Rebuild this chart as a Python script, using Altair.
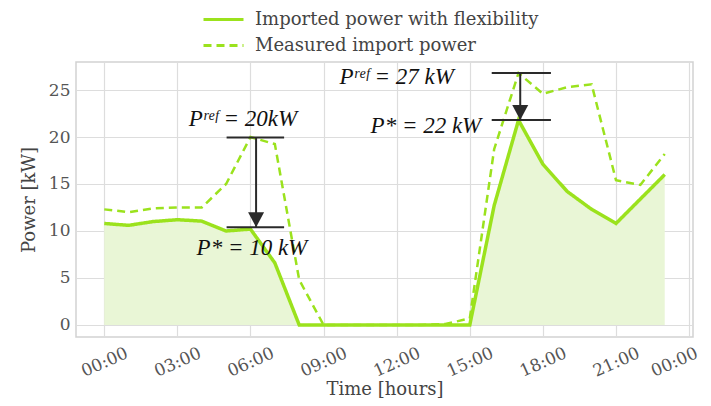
import altair as alt
import pandas as pd

hours = list(range(24))
flex = [10.8, 10.6, 11.0, 11.2, 11.05, 10.0, 10.2, 6.6, 0, 0, 0, 0, 0, 0, 0, 0,
        12.7, 21.8, 17.1, 14.2, 12.3, 10.8, 13.4, 16.0]
measured = [12.3, 12.0, 12.4, 12.5, 12.5, 15.0, 20.0, 19.25, 4.8, 0, 0, 0, 0, 0, 0.1, 0.7,
            18.7, 26.8, 24.6, 25.3, 25.6, 15.4, 14.9, 18.2]

S_FLEX = "Imported power with flexibility"
S_MEAS = "Measured import power"

tick_hours = [0, 3, 6, 9, 12, 15, 18, 21, 24]
y_ticks = [0, 5, 10, 15, 20, 25]

# annotation values
bar_x0 = [5.02, 15.9]
bar_x1 = [7.38, 18.33]
ref_vals = [19.95, 26.8]
star_vals = [10.4, 21.8]
arrow_x = [6.23, 17.07]
ann_text = ["Pʳᵉᶠ = 20kW", "P* = 10 kW", "Pʳᵉᶠ = 27 kW", "P* = 22 kW"]
ann_x = [5.69, 6.06, 12.0, 13.2]
ann_y = [21.9, 8.2, 26.4, 21.2]

GREEN = "#9be21d"
FILL = "#e9f6d6"

df = pd.DataFrame({
    "hour": hours * 2,
    "value": flex + measured,
    "series": [S_FLEX] * 24 + [S_MEAS] * 24,
})
area_df = pd.DataFrame({"hour": hours, "value": flex})
hz_df = pd.DataFrame({
    "x0": bar_x0 * 2,
    "x1": bar_x1 * 2,
    "y": ref_vals + star_vals,
})
ar_df = pd.DataFrame({"x": arrow_x, "y0": ref_vals, "y1": star_vals})
txt_df = pd.DataFrame({"t": ann_text, "x": ann_x, "y": ann_y})

xscale = alt.Scale(domain=[-1.16, 24.16], nice=False, zero=False)
yscale = alt.Scale(domain=[-1.28, 27.98], nice=False, zero=False)

xax = alt.Axis(
    values=tick_hours,
    labelExpr="(datum.value % 24 < 10 ? '0' : '') + (datum.value % 24) + ':00'",
    labelAngle=336, labelAlign="center", labelBaseline="middle", labelPadding=25,
    labelOffset={"condition": {"test": "datum.value == 24", "value": -15}, "value": 0},
    labelFontSize=17,
    title="Time [hours]", titleY=52, titleBaseline="middle",
)
yax = alt.Axis(values=y_ticks, title="Power [kW]", titlePadding=10, labelPadding=6,
               labelFontSize=17)

area = alt.Chart(area_df).mark_area(color=FILL, opacity=1).encode(
    x=alt.X("hour:Q", scale=xscale, axis=xax),
    y=alt.Y("value:Q", scale=yscale, axis=yax),
)

dash_scale = alt.Scale(domain=[S_FLEX, S_MEAS], range=[[1, 0], [8, 5]])

meas_line = alt.Chart(df).transform_filter(
    alt.datum.series == S_MEAS
).mark_line(color=GREEN, strokeWidth=2.5).encode(
    x=alt.X("hour:Q", scale=xscale),
    y=alt.Y("value:Q", scale=yscale),
    strokeDash=alt.StrokeDash("series:N", scale=dash_scale, title=None),
)
flex_line = alt.Chart(df).transform_filter(
    alt.datum.series == S_FLEX
).mark_line(color=GREEN, strokeWidth=3.5).encode(
    x=alt.X("hour:Q", scale=xscale),
    y=alt.Y("value:Q", scale=yscale),
    strokeDash=alt.StrokeDash("series:N", scale=dash_scale, title=None),
)

hz = alt.Chart(hz_df).mark_rule(color="#2a2a2a", strokeWidth=2).encode(
    x="x0:Q", x2="x1:Q", y="y:Q",
)
vr = alt.Chart(ar_df).mark_rule(color="#2a2a2a", strokeWidth=2).encode(
    x="x:Q", y="y0:Q", y2="y1:Q",
)
heads = alt.Chart(ar_df).mark_point(
    shape="M0,0L-0.5,-0.94L0.5,-0.94Z", filled=True, color="#2a2a2a", opacity=1, size=1024,
).encode(x="x:Q", y="y1:Q")

txt = alt.Chart(txt_df).mark_text(
    font="Liberation Serif", fontStyle="italic", fontSize=23, color="#111111",
).encode(x="x:Q", y="y:Q", text="t:N")

chart = alt.layer(area, meas_line, flex_line, hz, vr, heads, txt).properties(
    width=617, height=275,
    autosize=alt.AutoSizeParams(type="none"),
    padding={"left": 68, "top": 54, "right": 10, "bottom": 61},
).configure_view(
    stroke="#d2d2d2", strokeWidth=1.5,
).configure_axis(
    grid=True, gridColor="#dddddd", gridWidth=1.2, domain=False, ticks=False,
    labelFont="DejaVu Serif", labelColor="#555555",
    titleFont="DejaVu Serif", titleFontSize=18, titleColor="#444444", titleFontWeight="normal",
).configure_legend(
    orient="none", legendX=136, legendY=-54,
    labelFont="DejaVu Serif", labelFontSize=18, labelColor="#444444", labelLimit=400,
    symbolType="M-2,0H2", symbolSize=400, symbolStrokeWidth=3, symbolStrokeColor=GREEN,
    labelOffset=20, rowPadding=5, padding=0,
)

chart.save("out.html", embed_options={"renderer": "svg", "actions": False})
